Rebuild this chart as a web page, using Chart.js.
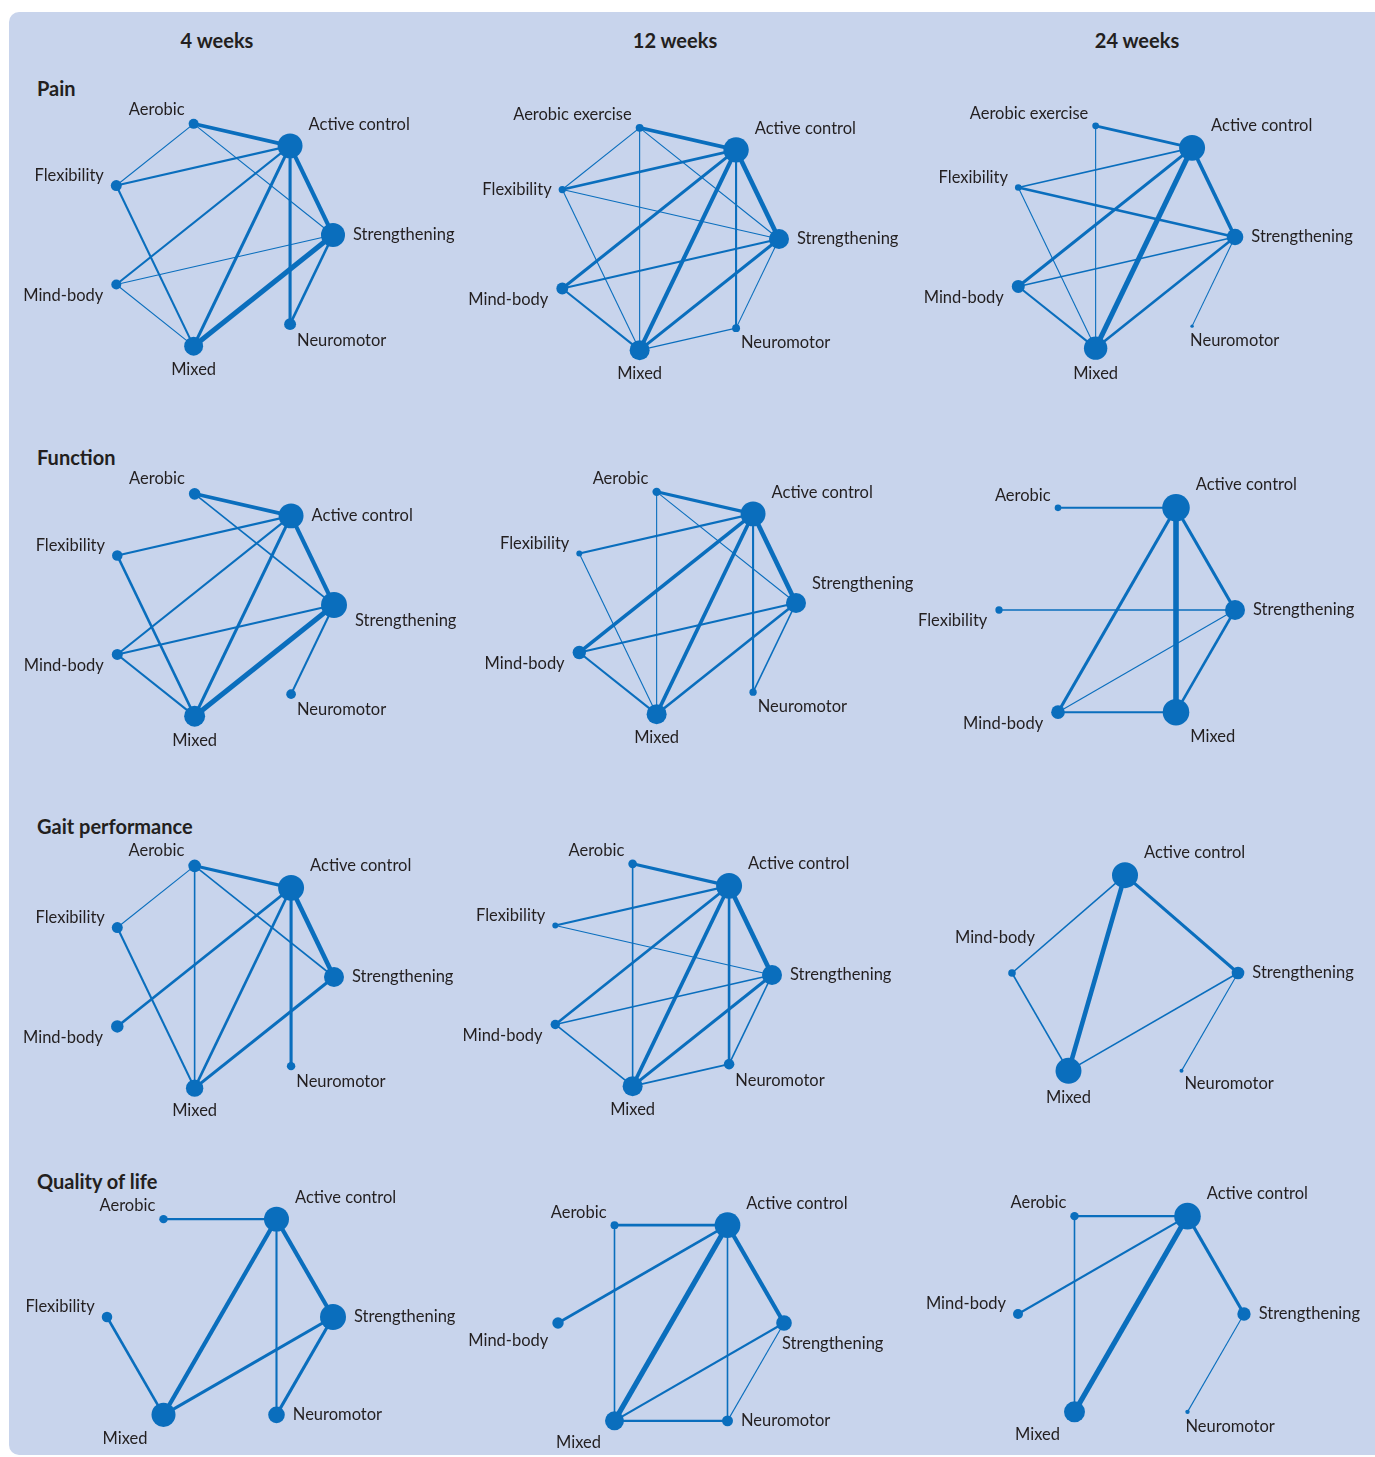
<!DOCTYPE html>
<html>
<head>
<meta charset="utf-8">
<script src="https://cdn.jsdelivr.net/npm/chart.js@4.4.0/dist/chart.umd.min.js"></script>
<style>
  body { margin: 0; background: #fff; }
  #figure { position: relative; width: 1375px; height: 1457px; overflow: hidden; font-family: Lato, sans-serif; color: #231f20; }
  #backdrop { position: absolute; left: 9px; top: 12px; right: 0; bottom: 2px; background: #c8d4ec; border-radius: 10px 0 0 10px; }
  .col-head { position: absolute; top: 28px; width: 200px; margin-left: -100px; text-align: center; font-weight: bold; font-size: 20px; line-height: 24px; }
  .row-head { position: absolute; left: 37px; font-weight: bold; font-size: 20px; line-height: 24px; }
  .net { position: absolute; }
</style>
</head>
<body>
<div id="figure">
  <div id="backdrop"></div>
</div>
<script>
const timepoints = ['4 weeks', '12 weeks', '24 weeks'];
const outcomes = ['Pain', 'Function', 'Gait performance', 'Quality of life'];

// nodes go round the ring anticlockwise from the right: [treatment, participants]
// edges: [treatment, treatment, trials]
const painWk4Nodes = [['Strengthening', 1300], ['Active control', 1400], ['Aerobic', 225], ['Flexibility', 270], ['Mind-body', 225], ['Mixed', 810], ['Neuromotor', 320]];
const painWk4Edges = [
  ['Aerobic', 'Active control', 6], ['Aerobic', 'Flexibility', 1], ['Aerobic', 'Strengthening', 1],
  ['Flexibility', 'Active control', 3], ['Flexibility', 'Mixed', 3], ['Mind-body', 'Active control', 3],
  ['Mind-body', 'Strengthening', 1], ['Mind-body', 'Mixed', 1], ['Mixed', 'Active control', 5],
  ['Mixed', 'Strengthening', 9], ['Active control', 'Strengthening', 7], ['Active control', 'Neuromotor', 5],
  ['Strengthening', 'Neuromotor', 4]
];

const painWk12Nodes = [['Strengthening', 900], ['Active control', 1450], ['Aerobic exercise', 140], ['Flexibility', 120], ['Mind-body', 320], ['Mixed', 900], ['Neuromotor', 140]];
const painWk12Edges = [
  ['Aerobic exercise', 'Active control', 6], ['Aerobic exercise', 'Flexibility', 1], ['Aerobic exercise', 'Mixed', 1],
  ['Aerobic exercise', 'Strengthening', 1], ['Flexibility', 'Active control', 4], ['Flexibility', 'Strengthening', 1],
  ['Flexibility', 'Mixed', 1], ['Mind-body', 'Active control', 5], ['Mind-body', 'Strengthening', 3],
  ['Mind-body', 'Mixed', 3], ['Mixed', 'Active control', 7], ['Mixed', 'Strengthening', 5],
  ['Mixed', 'Neuromotor', 1], ['Active control', 'Strengthening', 8], ['Active control', 'Neuromotor', 3],
  ['Strengthening', 'Neuromotor', 1]
];

const painWk24Nodes = [['Strengthening', 620], ['Active control', 1520], ['Aerobic exercise', 100], ['Flexibility', 100], ['Mind-body', 380], ['Mixed', 1230], ['Neuromotor', 26]];
const painWk24Edges = [
  ['Aerobic exercise', 'Active control', 4], ['Aerobic exercise', 'Mixed', 1], ['Flexibility', 'Active control', 2],
  ['Flexibility', 'Strengthening', 4], ['Flexibility', 'Mixed', 1], ['Mind-body', 'Active control', 5],
  ['Mind-body', 'Strengthening', 2], ['Mind-body', 'Mixed', 3], ['Mixed', 'Active control', 9],
  ['Mixed', 'Strengthening', 4], ['Active control', 'Strengthening', 6], ['Strengthening', 'Neuromotor', 1]
];

const funcWk4Nodes = [['Strengthening', 1520], ['Active control', 1400], ['Aerobic', 300], ['Flexibility', 250], ['Mind-body', 270], ['Mixed', 990], ['Neuromotor', 210]];
const funcWk4Edges = [
  ['Aerobic', 'Active control', 6], ['Aerobic', 'Strengthening', 2], ['Flexibility', 'Active control', 3],
  ['Flexibility', 'Mixed', 4], ['Mind-body', 'Active control', 3], ['Mind-body', 'Strengthening', 3],
  ['Mind-body', 'Mixed', 3], ['Mixed', 'Active control', 5], ['Mixed', 'Strengthening', 9],
  ['Active control', 'Strengthening', 7], ['Strengthening', 'Neuromotor', 3]
];

const funcWk12Nodes = [['Strengthening', 900], ['Active control', 1400], ['Aerobic', 160], ['Flexibility', 80], ['Mind-body', 400], ['Mixed', 900], ['Neuromotor', 120]];
const funcWk12Edges = [
  ['Aerobic', 'Active control', 5], ['Aerobic', 'Mixed', 1], ['Aerobic', 'Strengthening', 1],
  ['Flexibility', 'Active control', 3], ['Flexibility', 'Mixed', 1], ['Mind-body', 'Active control', 6],
  ['Mind-body', 'Strengthening', 3], ['Mind-body', 'Mixed', 3], ['Mixed', 'Active control', 6],
  ['Mixed', 'Strengthening', 4], ['Active control', 'Strengthening', 8], ['Active control', 'Neuromotor', 3],
  ['Strengthening', 'Neuromotor', 2]
];

const funcWk24Nodes = [['Strengthening', 900], ['Active control', 1710], ['Aerobic', 100], ['Flexibility', 120], ['Mind-body', 420], ['Mixed', 1590]];
const funcWk24Edges = [
  ['Aerobic', 'Active control', 3], ['Flexibility', 'Strengthening', 2], ['Mind-body', 'Active control', 5],
  ['Mixed', 'Active control', 10], ['Active control', 'Strengthening', 5], ['Mind-body', 'Strengthening', 1],
  ['Mixed', 'Strengthening', 4], ['Mind-body', 'Mixed', 3]
];

const gaitWk4Nodes = [['Strengthening', 900], ['Active control', 1520], ['Aerobic', 360], ['Flexibility', 270], ['Mind-body', 350], ['Mixed', 680], ['Neuromotor', 160]];
const gaitWk4Edges = [
  ['Aerobic', 'Active control', 5], ['Aerobic', 'Flexibility', 1], ['Aerobic', 'Mixed', 2],
  ['Aerobic', 'Strengthening', 2], ['Flexibility', 'Mixed', 3], ['Mind-body', 'Active control', 4],
  ['Mixed', 'Active control', 4], ['Mixed', 'Strengthening', 5], ['Active control', 'Strengthening', 8],
  ['Active control', 'Neuromotor', 5]
];

const gaitWk12Nodes = [['Strengthening', 900], ['Active control', 1520], ['Aerobic', 170], ['Flexibility', 80], ['Mind-body', 200], ['Mixed', 900], ['Neuromotor', 250]];
const gaitWk12Edges = [
  ['Aerobic', 'Active control', 5], ['Aerobic', 'Mixed', 2], ['Flexibility', 'Active control', 3],
  ['Flexibility', 'Strengthening', 1], ['Mind-body', 'Active control', 4], ['Mind-body', 'Strengthening', 2],
  ['Mind-body', 'Mixed', 2], ['Mixed', 'Active control', 6], ['Mixed', 'Strengthening', 5],
  ['Mixed', 'Neuromotor', 2], ['Active control', 'Strengthening', 8], ['Active control', 'Neuromotor', 4],
  ['Strengthening', 'Neuromotor', 2]
];

const gaitWk24Nodes = [['Strengthening', 360], ['Active control', 1520], ['Mind-body', 130], ['Mixed', 1520], ['Neuromotor', 36]];
const gaitWk24Edges = [
  ['Mind-body', 'Active control', 2], ['Mixed', 'Active control', 8], ['Active control', 'Strengthening', 5],
  ['Mind-body', 'Mixed', 2], ['Mixed', 'Strengthening', 2], ['Strengthening', 'Neuromotor', 1]
];

const qolWk4Nodes = [['Strengthening', 1520], ['Active control', 1400], ['Aerobic', 160], ['Flexibility', 250], ['Mixed', 1300], ['Neuromotor', 620]];
const qolWk4Edges = [
  ['Aerobic', 'Active control', 3], ['Flexibility', 'Mixed', 4], ['Mixed', 'Active control', 7],
  ['Active control', 'Neuromotor', 3], ['Active control', 'Strengthening', 7], ['Mixed', 'Strengthening', 5],
  ['Strengthening', 'Neuromotor', 5]
];

const qolWk12Nodes = [['Strengthening', 550], ['Active control', 1480], ['Aerobic', 140], ['Mind-body', 290], ['Mixed', 810], ['Neuromotor', 270]];
const qolWk12Edges = [
  ['Aerobic', 'Active control', 4], ['Aerobic', 'Mixed', 2], ['Mind-body', 'Active control', 4],
  ['Mixed', 'Active control', 9], ['Active control', 'Neuromotor', 2], ['Active control', 'Strengthening', 7],
  ['Mixed', 'Strengthening', 3], ['Mixed', 'Neuromotor', 3], ['Strengthening', 'Neuromotor', 1]
];

const qolWk24Nodes = [['Strengthening', 400], ['Active control', 1590], ['Aerobic', 160], ['Mind-body', 225], ['Mixed', 990], ['Neuromotor', 44]];
const qolWk24Edges = [
  ['Aerobic', 'Active control', 3], ['Aerobic', 'Mixed', 2], ['Mind-body', 'Active control', 3],
  ['Mixed', 'Active control', 9], ['Active control', 'Strengthening', 5], ['Strengthening', 'Neuromotor', 1]
];

const networks = [
  [painWk4Nodes, painWk4Edges], [painWk12Nodes, painWk12Edges], [painWk24Nodes, painWk24Edges],
  [funcWk4Nodes, funcWk4Edges], [funcWk12Nodes, funcWk12Edges], [funcWk24Nodes, funcWk24Edges],
  [gaitWk4Nodes, gaitWk4Edges], [gaitWk12Nodes, gaitWk12Edges], [gaitWk24Nodes, gaitWk24Edges],
  [qolWk4Nodes, qolWk4Edges], [qolWk12Nodes, qolWk12Edges], [qolWk24Nodes, qolWk24Edges]
];

// ---- layout ----
const BLUE = '#0a6ebd';
const INK = '#231f20';
const W = 480, H = 310;
const colX = [217, 675, 1137];
const rowY = [88, 457, 826, 1181];

// ring centre, radius, optional ring slots and label spots per panel
const rings = [
  { cx: 219, cy: 235, r: 114 },
  { cx: 665, cy: 239, r: 114, spots: { Flexibility: 'w' } },
  { cx: 1121, cy: 237, r: 114, spots: { Neuromotor: 'sr' } },
  { cx: 220, cy: 605, r: 114, spots: { Strengthening: 'es', 'Active control': 'e' } },
  { cx: 682, cy: 603, r: 114, spots: { Strengthening: 'ne' } },
  { cx: 1117, cy: 610, r: 118, spots: { Flexibility: 'ws', Mixed: 'se' } },
  { cx: 220, cy: 977, r: 114 },
  { cx: 658, cy: 975, r: 114 },
  { cx: 1125, cy: 973, r: 113, sides: 6, slots: [0, 1.5, 3, 4, 5], spots: { 'Mind-body': 'n' } },
  { cx: 220, cy: 1317, r: 113, spots: { Mixed: 'sw', Neuromotor: 'e' } },
  { cx: 671, cy: 1323, r: 113, spots: { 'Mind-body': 'sw', Strengthening: 'sr', Mixed: 'sw', Neuromotor: 'e' } },
  { cx: 1131, cy: 1314, r: 113, spots: { 'Mind-body': 'wn', Mixed: 'sw', Neuromotor: 'sr' } }
];

const defaultSpot = {
  'Strengthening': 'e', 'Active control': 'ne', 'Aerobic': 'nw', 'Aerobic exercise': 'nw',
  'Flexibility': 'wn', 'Mind-body': 'ws', 'Mixed': 's', 'Neuromotor': 'se'
};

const radiusFor = n => Math.sqrt(n) / 3;
const widthFor = trials => 0.6 + 0.5 * trials;

// vertex k of a regular polygon, walking anticlockwise (screen y points down)
function vertex(k, sides) {
  const a = -2 * Math.PI * k / sides;
  return [Math.cos(a), Math.sin(a)];
}

function ringPoint(slot, sides) {
  const lo = Math.floor(slot), f = slot - lo;
  const a = vertex(lo, sides), b = vertex(lo + 1, sides);
  return { x: a[0] + (b[0] - a[0]) * f, y: a[1] + (b[1] - a[1]) * f };
}

function labelSpot(code, x, y, rad) {
  switch (code) {
    case 'e':  return [x + rad + 8, y, 'left'];
    case 'es': return [x + rad + 8, y + 16, 'left'];
    case 'ne': return [x + rad + 6, y - rad - 9, 'left'];
    case 'nw': return [x - rad - 4, y - rad - 9, 'right'];
    case 'n':  return [x - 17, y - rad - 32, 'center'];
    case 'w':  return [x - rad - 7, y, 'right'];
    case 'wn': return [x - rad - 7, y - 10, 'right'];
    case 'ws': return [x - rad - 8, y + 11, 'right'];
    case 's':  return [x, y + rad + 14, 'center'];
    case 'sw': return [x - rad - 4, y + rad + 12, 'right'];
    case 'se': return [x + rad + 1, y + rad + 11, 'left'];
    case 'sr': return [x - 2, y + rad + 13, 'left'];
  }
}

const nodeLabels = {
  id: 'nodeLabels',
  afterDatasetsDraw(chart, args, opts) {
    const meta = chart.getDatasetMeta(0);
    const ctx = chart.ctx;
    ctx.save();
    ctx.font = '16.5px Lato';
    ctx.fillStyle = INK;
    ctx.textBaseline = 'middle';
    meta.data.forEach((pt, i) => {
      const name = opts.names[i];
      const code = opts.spots[name] || defaultSpot[name];
      const s = labelSpot(code, pt.x, pt.y, opts.radii[i]);
      ctx.textAlign = s[2];
      ctx.fillText(name, s[0], s[1]);
    });
    ctx.restore();
  }
};

const figure = document.getElementById('figure');

timepoints.forEach((t, i) => {
  const d = document.createElement('div');
  d.className = 'col-head';
  d.style.left = colX[i] + 'px';
  d.textContent = t;
  figure.appendChild(d);
});
outcomes.forEach((o, i) => {
  const d = document.createElement('div');
  d.className = 'row-head';
  d.style.top = (rowY[i] - 12) + 'px';
  d.textContent = o;
  figure.appendChild(d);
});

networks.forEach(([nodes, edges], p) => {
  const ring = rings[p];
  const sides = ring.sides || nodes.length;
  const slots = ring.slots || nodes.map((_, i) => i);
  const pos = {};
  nodes.forEach((n, i) => { pos[n[0]] = ringPoint(slots[i], sides); });
  const radii = nodes.map(n => radiusFor(n[1]));

  const holder = document.createElement('div');
  holder.className = 'net';
  holder.style.left = (ring.cx - W / 2) + 'px';
  holder.style.top = (ring.cy - H / 2) + 'px';
  const canvas = document.createElement('canvas');
  canvas.width = W;
  canvas.height = H;
  holder.appendChild(canvas);
  figure.appendChild(holder);

  const datasets = [{
    type: 'scatter',
    data: nodes.map(n => pos[n[0]]),
    pointRadius: radii,
    pointHoverRadius: radii,
    pointBackgroundColor: BLUE,
    pointBorderWidth: 0,
    order: 0
  }];
  edges.forEach(e => {
    datasets.push({
      type: 'line',
      data: [pos[e[0]], pos[e[1]]],
      borderColor: BLUE,
      borderWidth: widthFor(e[2]),
      borderCapStyle: 'butt',
      pointRadius: 0,
      showLine: true,
      fill: false,
      order: 1
    });
  });

  const ux = W / 2 / ring.r, uy = H / 2 / ring.r;
  new Chart(canvas, {
    type: 'scatter',
    data: { datasets },
    options: {
      responsive: false,
      animation: false,
      events: [],
      layout: { padding: 0, autoPadding: false },
      scales: {
        x: { type: 'linear', min: -ux, max: ux, display: false },
        y: { type: 'linear', min: -uy, max: uy, reverse: true, display: false }
      },
      plugins: {
        legend: { display: false },
        tooltip: { enabled: false },
        nodeLabels: { names: nodes.map(n => n[0]), spots: ring.spots || {}, radii }
      }
    },
    plugins: [nodeLabels]
  });
});
</script>
</body>
</html>
